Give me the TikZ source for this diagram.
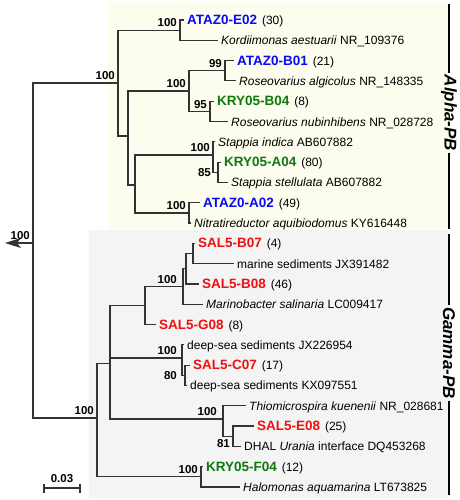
\documentclass[tikz,border=0pt]{standalone}
\usepackage{fontspec}
\setmainfont{Liberation Sans}
\usepackage{tikz}
\usetikzlibrary{arrows.meta,positioning}
\definecolor{treeLine}{HTML}{333333}
\definecolor{isoBlue}{HTML}{0A0AF5}
\definecolor{isoGreen}{HTML}{0F780F}
\definecolor{isoRed}{HTML}{EE1111}
\definecolor{alphaBg}{HTML}{FCFCEF}
\definecolor{gammaBg}{HTML}{F4F4F4}
\newcommand{\isolate}[3]{{\color{#1}\fontsize{13.5}{15}\selectfont\bfseries #2}\hspace{1.5pt} (#3)}
\tikzset{
  branch/.style={draw=treeLine, line width=1.2pt},
  leaf/.style={anchor=west, inner xsep=3pt, inner ysep=0pt, text height=9pt, text depth=0pt, font=\fontsize{12}{14}\selectfont},
  boot/.style={inner xsep=3pt, inner ysep=3pt, text height=8.3pt, text depth=0pt, font=\fontsize{11.5}{13}\selectfont\bfseries},
  group/.style={rotate=-90, inner sep=2pt, font=\fontsize{17}{20}\selectfont\bfseries\itshape},
  bar/.style={draw=black, line width=1.3pt}
}

\begin{document}
\begin{tikzpicture}[x=1pt, y=-1pt]
\useasboundingbox (0,0) rectangle (459,500);
% clade shading
\fill[alphaBg] (108,2) rectangle (449,229);
\fill[gammaBg] (89,230) rectangle (449,498);

% internal nodes
\coordinate (root) at (33,243);
\coordinate (rootTip) at (5,243);
\coordinate (alpha) at (118,83);
\coordinate (n1) at (180,30.2);
\coordinate (n2) at (128,136.0);
\coordinate (n3) at (189,91.1);
\coordinate (n99) at (225,70.8);
\coordinate (n95) at (210,111.4);
\coordinate (n4) at (135,184.9);
\coordinate (ns) at (213,155.0);
\coordinate (n85) at (218,172.3);
\coordinate (na02) at (189,212.9);
\coordinate (gamma) at (97,418.0);
\coordinate (g1) at (110,363.2);
\coordinate (g3) at (145,305.5);
\coordinate (g4) at (183,286.5);
\coordinate (g5) at (186,268.7);
\coordinate (g6) at (193,253.5);
\coordinate (ndeep) at (182,358.0);
\coordinate (n80) at (185,375.3);
\coordinate (nthio) at (223,419.0);
\coordinate (n81) at (233,436.2);
\coordinate (nf04) at (201,476.8);

% leaves
\node[leaf] (e02) at (184,20.0) {\isolate{isoBlue}{ATAZ0-E02}{30}};
\node[leaf] (kordi) at (218,40.3) {\textit{Kordiimonas aestuarii} NR\_109376};
\node[leaf] (b01) at (234,60.6) {\isolate{isoBlue}{ATAZ0-B01}{21}};
\node[leaf] (algic) at (236,80.9) {\textit{Roseovarius algicolus} NR\_148335};
\node[leaf] (b04) at (214,101.2) {\isolate{isoGreen}{KRY05-B04}{8}};
\node[leaf] (nubin) at (228,121.5) {\textit{Roseovarius nubinhibens} NR\_028728};
\node[leaf] (indica) at (215,141.8) {\textit{Stappia indica} AB607882};
\node[leaf] (a04) at (221,162.1) {\isolate{isoGreen}{KRY05-A04}{80}};
\node[leaf] (stell) at (228,182.4) {\textit{Stappia stellulata} AB607882};
\node[leaf] (a02) at (200,202.7) {\isolate{isoBlue}{ATAZ0-A02}{49}};
\node[leaf] (nitra) at (191,223.0) {\textit{Nitratireductor aquibiodomus} KY616448};
\node[leaf] (b07) at (195,243.3) {\isolate{isoRed}{SAL5-B07}{4}};
\node[leaf] (marine) at (234,263.6) {marine sediments JX391482};
\node[leaf] (b08) at (199,283.9) {\isolate{isoRed}{SAL5-B08}{46}};
\node[leaf] (marino) at (203,304.2) {\textit{Marinobacter salinaria} LC009417};
\node[leaf] (g08) at (156,324.5) {\isolate{isoRed}{SAL5-G08}{8}};
\node[leaf] (deepA) at (184,344.8) {deep-sea sediments JX226954};
\node[leaf] (c07) at (190,365.1) {\isolate{isoRed}{SAL5-C07}{17}};
\node[leaf] (deepB) at (187,385.4) {deep-sea sediments KX097551};
\node[leaf] (thiomi) at (246,405.7) {\textit{Thiomicrospira kuenenii} NR\_028681};
\node[leaf] (e08) at (254,426.0) {\isolate{isoRed}{SAL5-E08}{25}};
\node[leaf] (dhal) at (241,446.3) {DHAL \textit{Urania} interface DQ453268};
\node[leaf] (f04) at (203,466.6) {\isolate{isoGreen}{KRY05-F04}{12}};
\node[leaf] (halo) at (240,486.9) {\textit{Halomonas aquamarina} LT673825};

% branches
\draw[branch, -{Stealth[length=16pt, width=10pt, inset=4pt]}] (root) -- (rootTip);
\draw[branch] (root) |- (alpha);
\draw[branch] (root) |- (gamma);
\draw[branch] (alpha) |- (n1);
\draw[branch] (alpha) |- (n2);
\draw[branch] (n1) |- (e02);
\draw[branch] (n1) |- (kordi);
\draw[branch] (n2) |- (n3);
\draw[branch] (n2) |- (n4);
\draw[branch] (n3) |- (n99);
\draw[branch] (n3) |- (n95);
\draw[branch] (n99) |- (b01);
\draw[branch] (n99) |- (algic);
\draw[branch] (n95) |- (b04);
\draw[branch] (n95) |- (nubin);
\draw[branch] (n4) |- (ns);
\draw[branch] (n4) |- (na02);
\draw[branch] (ns) |- (indica);
\draw[branch] (ns) |- (n85);
\draw[branch] (n85) |- (a04);
\draw[branch] (n85) |- (stell);
\draw[branch] (na02) |- (a02);
\draw[branch] (na02) |- (nitra);
\draw[branch] (gamma) |- (g1);
\draw[branch] (gamma) |- (nf04);
\draw[branch] (g1) |- (g3);
\draw[branch] (g1) |- (ndeep);
\draw[branch] (g1) |- (nthio);
\draw[branch] (g3) |- (g4);
\draw[branch] (g3) |- (g08);
\draw[branch] (g4) |- (g5);
\draw[branch] (g4) |- (marino);
\draw[branch] (g5) |- (g6);
\draw[branch] (g5) |- (b08);
\draw[branch] (g6) |- (b07);
\draw[branch] (g6) |- (marine);
\draw[branch] (ndeep) |- (deepA);
\draw[branch] (ndeep) |- (n80);
\draw[branch] (n80) |- (c07);
\draw[branch] (n80) |- (deepB);
\draw[branch] (nthio) |- (thiomi);
\draw[branch] (nthio) |- (n81);
\draw[branch] (n81) |- (e08);
\draw[branch] (n81) |- (dhal);
\draw[branch] (nf04) |- (f04);
\draw[branch] (nf04) |- (halo);

% bootstrap values
\node[boot, above left] (bRoot) at (root) {100};
\node[boot, above left] (bAlpha) at (alpha) {100};
\node[boot, above left] (bN1) at (n1) {100};
\node[boot, above left] (bN3) at (n3) {100};
\node[boot, above left] (b99) at (n99) {99};
\node[boot, above left] (b95) at (n95) {95};
\node[boot, above left] (bStap) at (ns) {100};
\node[boot, left=4pt of n85] (b85) {85};
\node[boot, above left] (bA02) at (na02) {100};
\node[boot, above left] (bGamma) at (gamma) {100};
\node[boot, above left, xshift=-3pt] (bG4) at (g4) {100};
\node[boot, above left, xshift=-2pt] (bDeep) at (ndeep) {100};
\node[boot, left=5pt of n80] (b80) {80};
\node[boot, above left, xshift=-3pt] (bThio) at (nthio) {100};
\node[boot, below left] (b81) at (n81) {81};
\node[boot, above left] (bF04) at (nf04) {100};

% group brackets
\coordinate (alphaTop) at (449,4);
\coordinate (alphaBot) at (449,229);
\node[group] (alphaLbl) at (449,113) {Alpha-PB};
\draw[bar] (alphaTop) -- (alphaLbl) -- (alphaBot);
\coordinate (gammaTop) at (449,234);
\coordinate (gammaBot) at (449,495);
\node[group] (gammaLbl) at (449,353) {Gamma-PB};
\draw[bar] (gammaTop) -- (gammaLbl) -- (gammaBot);

% scale bar
\coordinate (sbL) at (44,488);
\coordinate (sbR) at (80,488);
\draw[branch] (sbL) -- (sbR);
\draw[branch] ([yshift=4.5pt]sbL) -- ([yshift=-4.5pt]sbL);
\draw[branch] ([yshift=4.5pt]sbR) -- ([yshift=-4.5pt]sbR);
\node[boot, anchor=south] (sbLbl) at (62,486) {0.03};
\end{tikzpicture}
\end{document}
